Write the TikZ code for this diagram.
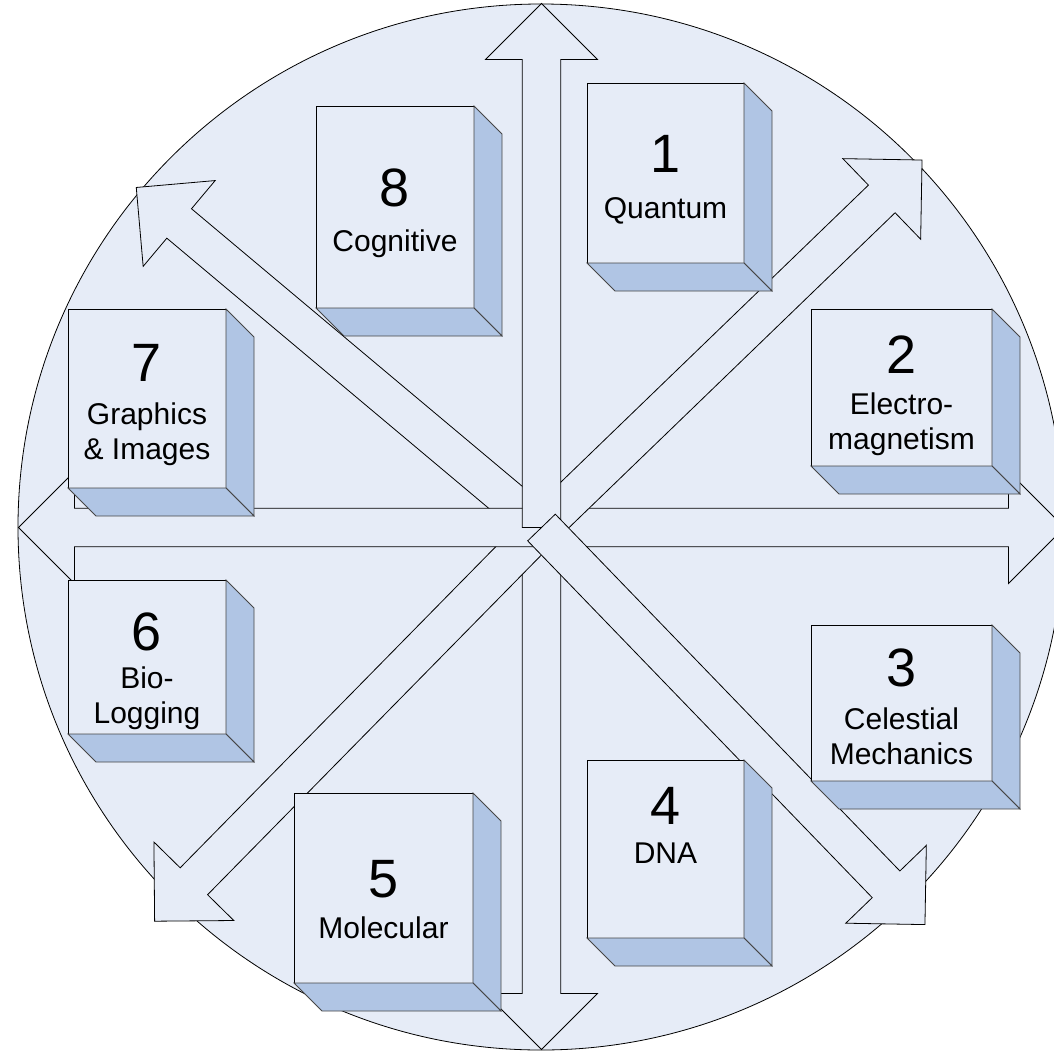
\documentclass[tikz,border=0pt]{standalone}
\usepackage{fontspec}
\setmainfont{Liberation Sans}
\usetikzlibrary{calc}
\definecolor{paleblue}{RGB}{230,236,247}
\definecolor{sideblue}{RGB}{176,197,228}
\definecolor{edgegray}{RGB}{70,70,70}
\newcommand{\blockarrow}[2]{%
  \draw[arrowshape, shift={(541.5,527.5)}, rotate=#1]
    (0,-19.2) -- (#2-56,-19.2) -- (#2-56,-56) -- (#2,0) -- (#2-56,56) -- (#2-56,19.2) -- (0,19.2) -- cycle;}
\newcommand{\cubebox}[5]{%
  \node[frontface, minimum width=#4pt, minimum height=#5pt, anchor=north west] (#1) at (#2,#3) {};
  \draw[sideface] (#1.north east) -- ++(28,28) -- ($(#1.south east)+(28,28)$) -- (#1.south east) -- cycle;
  \draw[sideface] (#1.south west) -- ++(28,28) -- ($(#1.south east)+(28,28)$) -- (#1.south east) -- cycle;}
\begin{document}
\begin{tikzpicture}[x=1pt,y=-1pt,
  arrowshape/.style={draw=black, fill=paleblue, line width=0.8pt, line join=miter},
  frontface/.style={draw=black, fill=paleblue, line width=0.8pt, rectangle, inner sep=0pt, outer sep=0pt},
  sideface/.style={draw=edgegray, fill=sideblue, line width=0.8pt, line join=miter},
  digit/.style={font=\fontsize{54}{60}\selectfont, anchor=base, inner sep=0pt},
  lbl/.style={font=\fontsize{30}{35}\selectfont, anchor=base, inner sep=0pt}]
\useasboundingbox (0,0) rectangle (1054,1052);
\clip (0,0) rectangle (1054,1052);
\fill[white] (0,0) rectangle (1054,1052);
\node[circle, draw=black, fill=paleblue, line width=0.8pt, minimum size=1046pt, inner sep=0pt] (disc) at (541,527) {};
% arrows, bottom to top
\blockarrow{270}{522}
\blockarrow{140}{529}
\blockarrow{225.5}{552}
\blockarrow{180}{523}
\blockarrow{0}{523}
\blockarrow{44}{529}
\blockarrow{90}{524}
\blockarrow{-46}{552}
% boxes
\cubebox{b1}{587}{83}{157}{180}
\cubebox{b2}{811}{309}{181}{157}
\cubebox{b3}{811}{625}{181}{156}
\cubebox{b4}{587}{760}{157}{178}
\cubebox{b5}{294}{793}{179}{190}
\cubebox{b6}{68}{580}{158}{154}
\cubebox{b7}{68}{309}{158}{179}
\cubebox{b8}{316}{106}{158}{202}
% texts
\node[digit] (d1) at (665.5,172) {1};
\node[lbl] (t1) at (665.5,218) {Quantum};
\node[digit] (d2) at (901.5,373) {2};
\node[lbl] (t2a) at (901.5,414) {Electro-};
\node[lbl] (t2b) at (901.5,449) {magnetism};
\node[digit] (d3) at (901.5,686) {3};
\node[lbl] (t3a) at (901.5,729) {Celestial};
\node[lbl] (t3b) at (901.5,764) {Mechanics};
\node[digit] (d4) at (665.5,824) {4};
\node[lbl] (t4) at (665.5,863) {DNA};
\node[digit] (d5) at (383.5,897) {5};
\node[lbl] (t5) at (383.5,938) {Molecular};
\node[digit] (d6) at (147,650) {6};
\node[lbl] (t6a) at (147,688) {Bio-};
\node[lbl] (t6b) at (147,723) {Logging};
\node[digit] (d7) at (147,381) {7};
\node[lbl] (t7a) at (147,424) {Graphics};
\node[lbl] (t7b) at (147,459) {\& Images};
\node[digit] (d8) at (395,206) {8};
\node[lbl] (t8) at (395,251) {Cognitive};
\end{tikzpicture}
\end{document}
